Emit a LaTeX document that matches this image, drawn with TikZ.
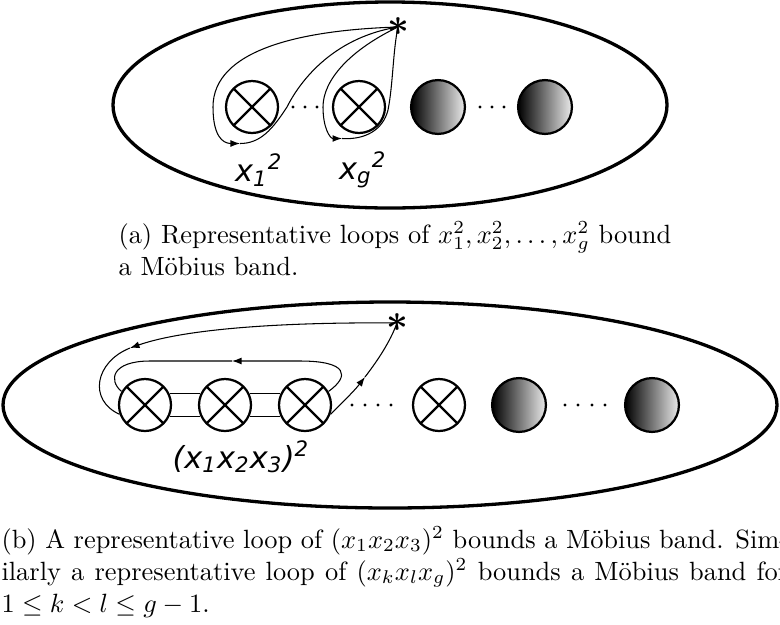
\documentclass[tikz,border=0pt]{standalone}
\usepackage{fontspec}
\newfontfamily\labelfont{DejaVu Sans}
\usetikzlibrary{arrows.meta}

\begin{document}
\begin{tikzpicture}[x=0.3788pt, y=-0.3788pt,
                        surface/.style={line width=1.25pt},
                        crosscap/.style={circle, draw, line width=0.85pt, minimum size=19.7pt, inner sep=0pt,
                            path picture={\draw[line width=0.85pt]
                                (path picture bounding box.north west) -- (path picture bounding box.south east)
                                (path picture bounding box.north east) -- (path picture bounding box.south west);}},
                        boundary/.style={circle, draw, line width=0.85pt, minimum size=20.4pt, inner sep=0pt,
                            shading=axis, left color=black, right color=black!8},
                        loopline/.style={line width=0.4pt},
                        band/.style={line width=0.5pt},
                        arr/.style={-{Latex[length=3.6pt,width=2.6pt]}},
                        basept/.style={inner sep=0pt, font=\Large\boldmath},
                        gen/.style={inner sep=0pt, font=\labelfont\itshape\fontsize{11.5}{13}\selectfont},
                        capline/.style={anchor=base west, inner sep=0pt}]
                        \useasboundingbox (0,0) rectangle (780,624);
                        % Surfaces:
                        \draw[surface] (390,105) ellipse [x radius=277, y radius=103];
                        \draw[surface] (390,405) ellipse [x radius=387, y radius=103];
                        % (a) crosscaps, boundaries and loops:
                        \node[crosscap](a1) at (252,107){};
                        \node[crosscap](ag) at (359,107){};
                        \node[boundary](ab1) at (438,107){};
                        \node[boundary](abn) at (545,107){};
                        \node[basept](pa) at (398,27){$\ast$};
                        \foreach \dx in {293,305,317} \fill (\dx,107) circle[radius=1.6];
                        \foreach \dx in {480,492,504} \fill (\dx,107) circle[radius=1.6];
                        \coordinate (ta1) at (240,143.5);
                        \coordinate (tag) at (342,138.5);
                        \draw[loopline, arr] (pa.center) .. controls (300,30) and (213,50) .. (213,107)
                            .. controls (213,135) and (222,143.5) .. (ta1);
                        \draw[loopline] (ta1) .. controls (260,143.5) and (272,130) .. (287,107)
                            .. controls (298,85) and (330,38) .. (pa.center);
                        \draw[loopline, arr] (pa.center) .. controls (350,50) and (323,80) .. (323,107)
                            .. controls (323,128) and (330,138.5) .. (tag);
                        \draw[loopline] (tag) .. controls (365,140) and (383,130) .. (388,110)
                            .. controls (393,85) and (393,50) .. (pa.center);
                        \node[gen](l1) at (259,170){x\textsubscript{1}\textsuperscript{2}};
                        \node[gen](lg) at (363,170){x\textsubscript{g}\textsuperscript{2}};
                        % (b) crosscaps, boundaries and loop:
                        \node[crosscap](b1) at (145,405){};
                        \node[crosscap](b2) at (225,405){};
                        \node[crosscap](b3) at (305,405){};
                        \node[crosscap](bk) at (439,405){};
                        \node[boundary](bb1) at (519,405){};
                        \node[boundary](bbn) at (652,405){};
                        \node[basept](pb) at (397,323){$\ast$};
                        \foreach \dx in {352,365,378,391} \fill (\dx,405) circle[radius=1.6];
                        \foreach \dx in {565,578,592,605} \fill (\dx,405) circle[radius=1.6];
                        \draw[band] (b1.25) -- (b2.155) (b1.-25) -- (b2.-155);
                        \draw[band] (b2.25) -- (b3.155) (b2.-25) -- (b3.-155);
                        \coordinate (tb1) at (130,348);
                        \coordinate (tb2) at (232,361);
                        \coordinate (tb3) at (365,377);
                        \draw[loopline, arr] (pb.center) .. controls (300,322) and (190,327) .. (tb1);
                        \draw[loopline] (tb1) .. controls (95,362) and (88,400) .. (b1.200);
                        \draw[loopline, arr] (b3.30) .. controls (350,376) and (348,361) .. (300,361) -- (tb2);
                        \draw[loopline] (tb2) -- (150,361) .. controls (112,361) and (108,380) .. (b1.150);
                        \draw[loopline, arr] (b3.-20) .. controls (345,400) and (355,390) .. (tb3);
                        \draw[loopline] (tb3) .. controls (378,360) and (390,342) .. (pb.center);
                        \node[gen](lb) at (241,457){(x\textsubscript{1}x\textsubscript{2}x\textsubscript{3})\textsuperscript{2}};
                        % Captions:
                        \node[capline](capa1) at (118,243){(a) Representative loops of $x_1^2, x_2^2, \dots, x_g^2$ bound};
                        \node[capline](capa2) at (118,275){a Möbius band.};
                        \node[capline](capb1) at (1,548){\makebox[298pt][s]{(b) A representative loop of $(x_1x_2x_3)^2$ bounds a Möbius band. Sim-}};
                        \node[capline](capb2) at (1,580){\makebox[298pt][s]{ilarly a representative loop of $(x_kx_lx_g)^2$ bounds a Möbius band for}};
                        \node[capline](capb3) at (1,612){$1 \le k < l \le g-1$.};
                    \end{tikzpicture}
\end{document}
